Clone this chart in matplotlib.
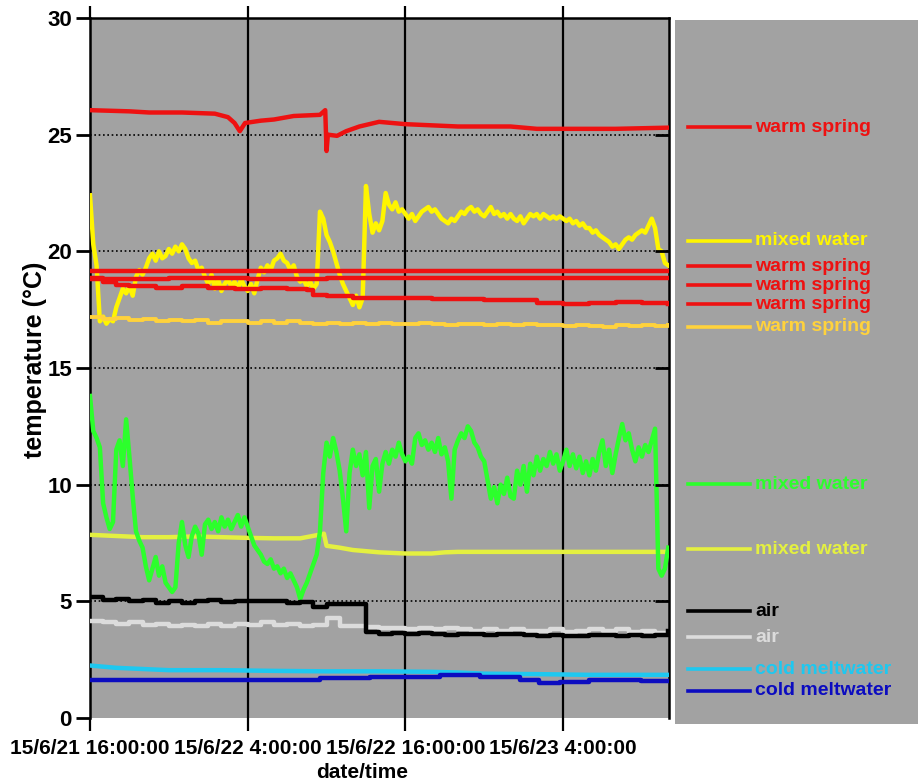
import numpy as np
import matplotlib
matplotlib.use("Agg")
import matplotlib.pyplot as plt

plt.rcParams['font.family'] = ['Liberation Sans', 'DejaVu Sans']
plt.rcParams['font.weight'] = 'bold'

# ---------------- data ----------------
# time axis: hours since 15/6/21 16:00:00
tick_hours = [0, 12, 24, 36]
tick_labels = ['15/6/21 16:00:00', '15/6/22 4:00:00', '15/6/22 16:00:00', '15/6/23 4:00:00']
y_ticks = [0, 5, 10, 15, 20, 25, 30]

quarter_hours = np.arange(0, 44.01, 0.25)
hours = np.arange(0, 44.01, 1.0)

mixed_yellow = [22.4, 20.3, 19.4, 17.0, 17.2, 16.9, 17.1, 17.0,
                17.6, 18.0, 18.4, 18.2, 18.5, 18.1, 18.9, 19.2,
                19.0, 19.3, 19.7, 19.9, 19.6, 20.0, 19.7, 19.8,
                20.1, 19.9, 20.2, 20.0, 20.3, 20.1, 19.7, 19.5,
                19.6, 19.2, 19.3, 18.9, 18.6, 19.0, 18.4, 18.8,
                18.3, 18.6, 18.8, 18.5, 18.7, 18.4, 18.8, 18.5,
                18.3, 18.6, 18.2, 18.8, 19.3, 19.1, 19.4, 19.2,
                19.6, 19.7, 19.9, 19.6, 19.5, 19.2, 19.4, 18.9,
                18.7, 18.8, 18.5, 18.7, 18.4, 18.6, 21.7, 21.4,
                20.7, 20.4, 20.0, 19.5, 19.0, 18.6, 18.3, 18.0,
                17.7, 18.1, 17.6, 18.0, 22.8, 21.6, 20.8, 21.2,
                20.9, 21.3, 22.5, 22.0, 21.8, 22.1, 21.7, 21.8,
                21.6, 21.4, 21.6, 21.3, 21.5, 21.7, 21.8, 21.9,
                21.7, 21.8, 21.6, 21.4, 21.3, 21.2, 21.4, 21.3,
                21.5, 21.7, 21.6, 21.8, 21.9, 21.7, 21.8, 21.6,
                21.5, 21.7, 21.9, 21.6, 21.7, 21.5, 21.6, 21.4,
                21.6, 21.4, 21.3, 21.5, 21.2, 21.4, 21.6, 21.5,
                21.6, 21.4, 21.6, 21.5, 21.4, 21.5, 21.4, 21.5,
                21.4, 21.3, 21.4, 21.2, 21.3, 21.1, 21.2, 21.0,
                21.0, 20.8, 20.9, 20.7, 20.6, 20.5, 20.4, 20.2,
                20.3, 20.1, 20.3, 20.5, 20.6, 20.5, 20.7, 20.8,
                20.9, 20.8, 21.1, 21.4, 21.0, 20.1, 20.0, 19.5,
                19.4]

mixed_green = [13.8, 12.3, 12.0, 11.6, 9.2, 8.6, 8.1, 8.4,
               11.5, 11.9, 10.8, 12.8, 11.2, 9.5, 8.0, 7.6,
               7.3, 6.5, 5.9, 6.4, 6.9, 6.1, 6.5, 5.8,
               5.6, 5.4, 5.6, 7.5, 8.4, 7.4, 6.9, 7.8,
               8.2, 7.9, 7.0, 8.3, 8.5, 8.1, 8.4, 8.0,
               8.6, 8.2, 8.5, 8.1, 8.4, 8.7, 8.2, 8.6,
               8.2, 7.8, 7.4, 7.2, 7.0, 6.7, 6.6, 6.8,
               6.4, 6.5, 6.2, 6.4, 6.0, 6.2, 5.9, 5.6,
               5.1, 5.5, 5.8, 6.2, 6.6, 7.0, 8.0, 10.5,
               11.8, 11.2, 12.0, 11.4, 10.6, 9.4, 8.0, 10.5,
               11.5, 10.8, 11.3, 10.4, 11.4, 9.0, 10.8, 11.1,
               9.7, 10.9, 11.4, 10.9, 11.5, 11.2, 11.8, 11.3,
               11.0, 11.2, 10.9, 12.0, 12.2, 11.7, 11.9, 11.5,
               11.8, 11.4, 12.0, 11.3, 11.6, 11.0, 9.4, 11.5,
               11.9, 12.2, 12.0, 12.5, 12.3, 11.8, 11.6, 11.2,
               11.0, 10.2, 9.4, 9.9, 9.2, 10.0, 9.6, 10.3,
               9.5, 9.4, 10.6, 10.0, 10.8, 9.7, 10.9, 10.4,
               11.2, 10.6, 11.1, 10.8, 11.4, 10.9, 11.3, 10.6,
               11.0, 11.5, 10.8, 11.3, 10.7, 11.2, 10.5, 11.0,
               10.4, 11.1, 10.6, 11.4, 11.9, 10.8, 11.5, 10.5,
               11.3, 12.0, 12.6, 11.9, 12.2, 11.5, 11.0, 11.6,
               11.2, 11.7, 11.4, 11.9, 12.4, 6.4, 6.1, 6.4,
               7.3]

air_black = [5.2, 5.05, 5.1, 5.0, 5.05, 4.95, 5.0, 4.95, 5.0, 5.05,
             4.97, 5.0, 5.02, 5.0, 5.0, 4.95, 4.98, 4.75, 4.9, 4.88,
             4.88, 3.7, 3.62, 3.65, 3.6, 3.65, 3.62, 3.55, 3.62, 3.6,
             3.55, 3.6, 3.58, 3.55, 3.5, 3.55, 3.52, 3.5, 3.55, 3.55,
             3.5, 3.55, 3.5, 3.55, 3.75]

air_gray = [4.15, 4.1, 4.05, 4.1, 4.0, 4.05, 3.95, 4.0, 3.95, 4.05,
            3.95, 4.05, 4.0, 4.1, 4.0, 4.05, 3.95, 4.0, 4.3, 3.95,
            3.95, 3.9, 3.85, 3.85, 3.8, 3.85, 3.8, 3.85, 3.8, 3.75,
            3.8, 3.75, 3.8, 3.75, 3.75, 3.8, 3.7, 3.75, 3.8, 3.75,
            3.8, 3.7, 3.75, 3.65, 3.6]

warm_spring_orange = [17.2, 17.1, 17.15, 17.05, 17.1, 17.0, 17.05, 17.0, 17.05, 16.95,
                      17.0, 17.0, 16.95, 17.0, 16.95, 17.0, 16.95, 16.9, 16.95, 16.9,
                      16.95, 16.9, 16.95, 16.9, 16.9, 16.95, 16.9, 16.85, 16.9, 16.9,
                      16.85, 16.9, 16.85, 16.9, 16.85, 16.85, 16.8, 16.85, 16.8, 16.75,
                      16.85, 16.8, 16.85, 16.8, 16.85]

warm_top_t = [0, 3, 4.5, 7, 9.5, 10.5, 11, 11.4, 11.8, 13, 14, 15.5, 17.5, 17.9,
              18.0, 18.1, 18.8, 19.5, 20.5, 22, 23, 24, 28, 32, 34, 36, 40, 44]
warm_top_v = [26.05, 26.0, 25.95, 25.95, 25.9, 25.75, 25.5, 25.15, 25.5, 25.6, 25.65,
              25.8, 25.85, 26.05, 24.3, 25.0, 24.95, 25.15, 25.35, 25.55, 25.5, 25.45,
              25.35, 25.35, 25.25, 25.25, 25.25, 25.3]

warm_a_t = [0, 44]
warm_a_v = [19.16, 19.16]

warm_b_t = [0, 6, 12, 18, 24, 30, 36, 44]
warm_b_v = [18.82, 18.85, 18.8, 18.85, 18.86, 18.84, 18.86, 18.85]

warm_c_t = [0, 1, 2, 3, 5, 7, 9, 11, 13, 15, 16.5, 17, 18, 20, 22, 24, 26, 28,
            30, 32, 34, 36, 38, 40, 42, 44]
warm_c_v = [18.85, 18.7, 18.55, 18.5, 18.45, 18.5, 18.45, 18.4, 18.45, 18.4, 18.35,
            18.12, 18.1, 18.0, 18.0, 18.0, 17.95, 17.95, 17.9, 17.9, 17.8, 17.75,
            17.8, 17.85, 17.8, 17.75]

mixed_yg_t = [0, 2, 4, 6, 8, 10, 12, 14, 16, 17.4, 17.8, 18.0, 19, 20, 22, 24, 26,
              27, 28, 32, 36, 40, 44]
mixed_yg_v = [7.85, 7.8, 7.75, 7.75, 7.78, 7.75, 7.72, 7.7, 7.7, 7.85, 7.9, 7.38,
              7.3, 7.2, 7.1, 7.05, 7.05, 7.1, 7.12, 7.12, 7.12, 7.12, 7.12]

cold_cyan_t = [0, 1, 2, 4, 6, 10, 14, 18, 22, 26, 28, 30, 34, 38, 44]
cold_cyan_v = [2.25, 2.2, 2.15, 2.1, 2.05, 2.05, 2.02, 2.0, 2.0, 1.98, 1.95, 1.9,
               1.88, 1.85, 1.85]

cold_blue_t = [0, 17.5, 21.3, 26.6, 29.7, 32.7, 34.2, 35.8, 38, 41.9, 44]
cold_blue_v = [1.63, 1.7, 1.77, 1.85, 1.77, 1.63, 1.5, 1.55, 1.65, 1.58, 1.58]

legend_labels = ['warm spring', 'mixed water', 'warm spring', 'warm spring', 'warm spring',
                 'warm spring', 'mixed water', 'mixed water', 'air', 'air',
                 'cold meltwater', 'cold meltwater']

# ---------------- style ----------------
RED = '#EE1111'
YELLOW = '#FFF500'
ORANGE = '#FFD23C'
GREEN = '#2CFF2C'
YGREEN = '#E4F040'
BLACK = '#000000'
LGRAY = '#DCDCDC'
CYAN = '#1EC8F0'
BLUE = '#0C0CC0'
BG = '#A2A2A2'

legend_colors = [RED, YELLOW, RED, RED, RED, ORANGE, GREEN, YGREEN, BLACK, LGRAY, CYAN, BLUE]
legend_y = [25.33, 20.45, 19.37, 18.56, 17.74, 16.78, 10.03, 7.24, 4.58, 3.47, 2.1, 1.16]

W, H = 918, 784
fig = plt.figure(figsize=(W / 100, H / 100), dpi=100)
ax = fig.add_axes([90 / W, 1 - 718 / H, (669 - 90) / W, 700 / H])
ax.set_facecolor(BG)
ax.set_xlim(0, 44.06)
ax.set_ylim(0, 30)

for yv in y_ticks[1:-1]:
    ax.axhline(yv, color='black', lw=1.2, linestyle=(0, (1, 1.6)), zorder=1)
for xv in tick_hours[1:]:
    ax.axvline(xv, color='black', lw=1.6, zorder=1)

lw = 3.2
ax.plot(warm_top_t, warm_top_v, color=RED, lw=lw, zorder=3)
ax.plot(quarter_hours, mixed_yellow, color=YELLOW, lw=lw, zorder=3)
ax.plot(warm_a_t, warm_a_v, color=RED, lw=lw, zorder=4)
ax.plot(warm_b_t, warm_b_v, color=RED, lw=lw, drawstyle='steps-post', zorder=4)
ax.plot(warm_c_t, warm_c_v, color=RED, lw=lw, drawstyle='steps-post', zorder=4)
ax.plot(hours, warm_spring_orange, color=ORANGE, lw=2.8, drawstyle='steps-post', zorder=3)
ax.plot(mixed_yg_t, mixed_yg_v, color=YGREEN, lw=lw, zorder=3)
ax.plot(quarter_hours, mixed_green, color=GREEN, lw=lw, zorder=3)
ax.plot(hours, air_black, color=BLACK, lw=lw, drawstyle='steps-post', zorder=4)
ax.plot(hours, air_gray, color=LGRAY, lw=lw, drawstyle='steps-post', zorder=3)
ax.plot(cold_cyan_t, cold_cyan_v, color=CYAN, lw=lw, zorder=3)
ax.plot(cold_blue_t, cold_blue_v, color=BLUE, lw=lw, drawstyle='steps-post', zorder=3)

ax.set_xticks(tick_hours, tick_labels)
ax.set_yticks(y_ticks)
ax.tick_params(axis='x', direction='out', length=9, width=1.6, top=True, bottom=True,
               labelsize=15, pad=6)
ax.tick_params(axis='y', direction='out', length=10, width=2, labelsize=16, pad=3)
for s in ['left', 'top', 'right']:
    ax.spines[s].set_linewidth(1.8)
ax.spines['bottom'].set_visible(False)

ax2 = ax.twinx()
ax2.set_ylim(0, 30)
ax2.set_yticks(y_ticks[1:-1])
ax2.tick_params(axis='y', direction='in', length=10, width=2, labelright=False)
for s in ax2.spines.values():
    s.set_visible(False)

fig.text(362 / W, 1 - 772 / H, 'date/time', ha='center', va='center', fontsize=15)
fig.text(35 / W, 1 - 360 / H, 'temperature (°C)', ha='center', va='center',
         rotation=90, fontsize=18)

# legend panel
lax = fig.add_axes([675 / W, 1 - 724 / H, 243 / W, 704 / H])
lax.set_facecolor(BG)
lax.set_xlim(0, 1)
lax.set_ylim(-0.257, 29.92)
lax.set_xticks([])
lax.set_yticks([])
for s in lax.spines.values():
    s.set_visible(False)
for lab, col, yy in zip(legend_labels, legend_colors, legend_y):
    lax.plot([0.053, 0.309], [yy, yy], color=col, lw=2.6)
    lax.text(0.33, yy, lab, color=col, fontsize=14, va='center', ha='left')

fig.savefig('out.png', dpi=100)
